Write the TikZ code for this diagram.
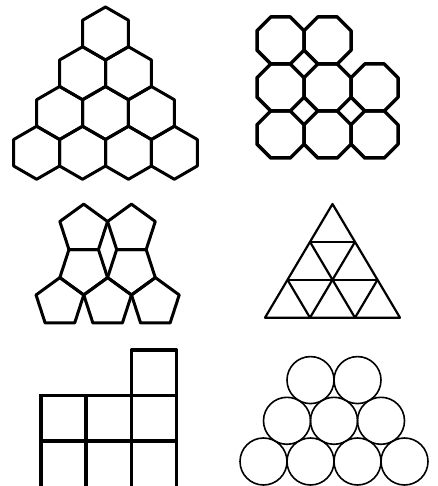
\documentclass[tikz,border=0pt]{standalone}
\usetikzlibrary{calc}

\begin{document}
\begin{tikzpicture}[x=1pt,y=1pt,line join=round,
    hexline/.style={line width=3pt},
    octline/.style={line width=3.5pt},
    pentline/.style={line width=3pt},
    triline/.style={line width=2.2pt},
    sqline/.style={line width=3.5pt,line cap=rect},
    ball/.style={circle,draw,line width=1.6pt,minimum size=47pt,inner sep=0pt} ]
    \useasboundingbox (0,0) rectangle (437,486);
    % hexagons
    \foreach \k in {0,...,3}
      \foreach \i in {0,...,\k}
        \draw [hexline,shift={({105.5+(\i-\k/2)*45.9},{452.5-39.75*\k})}]
          (30:26.5) \foreach \a in {90,150,...,330} {-- (\a:26.5)} -- cycle;
    % octagons
    \foreach \m/\n in {0/0,1/0,0/1,1/1,2/1,0/2,1/2,2/2}
      \draw [octline,shift={({280.5+47*\m},{445.5-47*\n})}]
        (22.5:25.44) \foreach \a in {67.5,112.5,...,337.5} {-- (\a:25.44)} -- cycle;
    % pentagons
    \foreach \i in {0,1,2}
      \draw [pentline,shift={({59.9+47.73*\i},183.3)}]
        (90:25.09) \foreach \a in {162,234,306,18} {-- (\a:25.09)} -- cycle;
    \foreach \i in {0,1} {
      \draw [pentline,shift={({83.7+47.73*\i},216.15)}]
        (270:25.09) \foreach \a in {342,54,126,198} {-- (\a:25.09)} -- cycle;
      \draw [pentline,shift={({83.7+47.73*\i},256.75)}]
        (90:25.09) \foreach \a in {162,234,306,18} {-- (\a:25.09)} -- cycle;
    }
    % triangles
    \coordinate (A) at (265,168.3);
    \coordinate (B) at (400,168.3);
    \coordinate (C) at (332.5,282);
    \draw [triline] (A) -- (B) -- (C) -- cycle;
    \foreach \k in {1,2} {
      \draw [triline] ($(A)!\k/3!(C)$) -- ($(B)!\k/3!(C)$);
      \draw [triline] ($(A)!\k/3!(B)$) -- ($(A)!\k/3!(C)$);
      \draw [triline] ($(B)!\k/3!(A)$) -- ($(B)!\k/3!(C)$);
    }
    % squares
    \draw [sqline] (131.4,90.5) rectangle (176.6,136);
    \draw [sqline] (41,90.5) -- (176.6,90.5);
    \draw [sqline] (41,45) -- (176.6,45);
    \foreach \x in {41,86.2,131.4,176.6}
      \draw [line width=3.5pt] (\x,0) -- (\x,90.5);
    % circles
    \foreach \i in {0,...,3}
      \node [ball] (b\i) at ({263.5+47*\i},24.5) {};
    \foreach \i in {0,1,2}
      \node [ball] (m\i) at ({287+47*\i},65.2) {};
    \foreach \i in {0,1}
      \node [ball] (t\i) at ({310.5+47*\i},105.9) {};
\end{tikzpicture}
\end{document}
